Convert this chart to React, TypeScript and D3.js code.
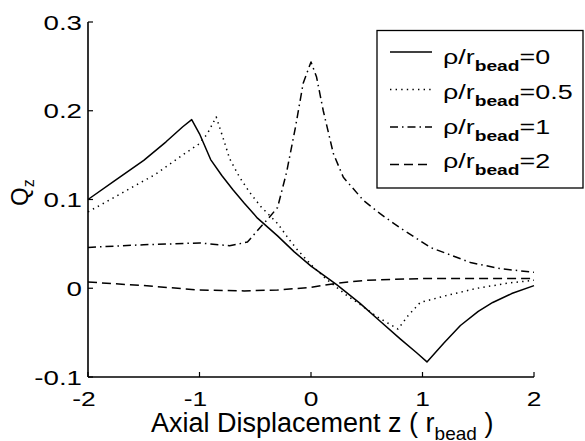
import React from "react";
import * as d3 from "d3";

// Axial force coefficient Q_z versus axial displacement for several radial offsets
const zRho0 = [-2.0, -1.75, -1.5, -1.3, -1.15, -1.07, -1.0, -0.9, -0.8, -0.7, -0.6, -0.48, -0.3, -0.15, 0.0, 0.23, 0.44, 0.6, 0.8, 0.95, 1.04, 1.19, 1.34, 1.5, 1.63, 1.8, 2.0];
const qRho0 = [0.100, 0.122, 0.144, 0.165, 0.182, 0.190, 0.174, 0.145, 0.127, 0.111, 0.096, 0.079, 0.059, 0.041, 0.025, 0.004, -0.017, -0.035, -0.057, -0.073, -0.083, -0.062, -0.042, -0.026, -0.016, -0.006, 0.003];

const zRho05 = [-2.0, -1.7, -1.4, -1.13, -1.0, -0.93, -0.85, -0.78, -0.73, -0.64, -0.55, -0.45, -0.37, -0.3, -0.19, -0.12, 0.02, 0.14, 0.32, 0.45, 0.59, 0.7, 0.78, 0.87, 0.98, 1.22, 1.49, 1.78, 2.0];
const qRho05 = [0.086, 0.107, 0.128, 0.152, 0.163, 0.174, 0.193, 0.166, 0.146, 0.125, 0.108, 0.092, 0.082, 0.073, 0.054, 0.043, 0.024, 0.010, -0.008, -0.019, -0.032, -0.040, -0.046, -0.031, -0.016, -0.008, 0.000, 0.006, 0.009];

const zRho1 = [-2.0, -1.5, -1.0, -0.73, -0.57, -0.46, -0.38, -0.3, -0.22, -0.14, -0.07, 0.0, 0.05, 0.11, 0.2, 0.29, 0.47, 0.62, 0.8, 1.07, 1.43, 1.7, 2.0];
const qRho1 = [0.046, 0.049, 0.051, 0.048, 0.052, 0.068, 0.079, 0.091, 0.130, 0.181, 0.231, 0.255, 0.238, 0.200, 0.152, 0.125, 0.099, 0.084, 0.068, 0.046, 0.029, 0.022, 0.018];

const zRho2 = [-2.0, -1.5, -1.0, -0.6, -0.3, 0.0, 0.25, 0.5, 1.0, 1.5, 2.0];
const qRho2 = [0.007, 0.003, -0.002, -0.003, -0.002, 0.001, 0.006, 0.009, 0.011, 0.011, 0.011];

const legendValues = ["0", "0.5", "1", "2"];
const xTicks = [-2, -1, 0, 1, 2];
const yTicks = [-0.1, 0, 0.1, 0.2, 0.3];
const yTickLabels = ["-0.1", "0", "0.1", "0.2", "0.3"];

const series = [
  { z: zRho0, q: qRho0, dash: "none" },
  { z: zRho05, q: qRho05, dash: "1.4 4.2" },
  { z: zRho1, q: qRho1, dash: "8 4 1.5 4" },
  { z: zRho2, q: qRho2, dash: "9 5" },
];

const W = 585;
const H = 441;
const FONT = "'Liberation Sans', Arial, Helvetica, sans-serif";
const SX = 1.32; // horizontal glyph stretch of tick and legend text

const x = d3.scaleLinear().domain([-2, 2]).range([88, 534]);
const y = d3.scaleLinear().domain([-0.1, 0.3]).range([377, 22]);

function Stretched({ x: tx, y: ty, anchor, children, size }: any) {
  return (
    <g transform={`translate(${tx},${ty}) scale(${SX},1)`}>
      <text textAnchor={anchor} fontSize={size} fontFamily={FONT} fill="#000">
        {children}
      </text>
    </g>
  );
}

export default function App() {
  const line = d3
    .line<[number, number]>()
    .x((d) => x(d[0]))
    .y((d) => y(d[1]));

  const [x0, x1] = x.range();
  const [yb, yt] = y.range();

  return (
    <svg
      width={W}
      height={H}
      viewBox={`0 0 ${W} ${H}`}
      style={{ position: "absolute", left: 0, top: 0, background: "#fff" }}
    >
      <rect width={W} height={H} fill="#fff" />

      {/* curves */}
      <g fill="none" stroke="#000" strokeWidth={1.5} strokeLinejoin="round">
        {series.map((s, i) => (
          <path
            key={i}
            d={line(s.z.map((z, k) => [z, s.q[k]] as [number, number])) || ""}
            strokeDasharray={s.dash}
          />
        ))}
      </g>

      {/* axes */}
      <g stroke="#000" strokeWidth={1.6} fill="none">
        <line x1={x0} x2={x0} y1={yt} y2={yb} />
        <line x1={x0} x2={x1} y1={yb} y2={yb} />
        {yTicks.map((t) => (
          <line key={"yt" + t} x1={x0} x2={x0 + 5} y1={y(t)} y2={y(t)} strokeWidth={1.2} />
        ))}
        {xTicks.map((t) => (
          <line key={"xt" + t} x1={x(t)} x2={x(t)} y1={yb} y2={yb - 5} strokeWidth={1.2} />
        ))}
      </g>

      {/* tick labels */}
      {yTicks.map((t, i) => (
        <Stretched key={"yl" + t} x={x0 - 6} y={y(t) + 7.5} anchor="end" size={21}>
          {yTickLabels[i]}
        </Stretched>
      ))}
      {xTicks.map((t) => (
        <Stretched key={"xl" + t} x={x(t) - (t < 0 ? 4 : 0)} y={406} anchor="middle" size={20}>
          {String(t)}
        </Stretched>
      ))}

      {/* axis titles */}
      <text x={151} y={432} fontSize={27} fontFamily={FONT} fill="#000">
        Axial Displacement z ( r
        <tspan fontSize={19} dy={8}>bead</tspan>
        <tspan dy={-8}> )</tspan>
      </text>
      <g transform="translate(28,206) rotate(-90)">
        <text fontSize={24} fontFamily={FONT} fill="#000">
          Q<tspan fontSize={16} dy={6}>z</tspan>
        </text>
      </g>

      {/* legend */}
      <rect x={377} y={30.5} width={206} height={157.5} fill="#fff" stroke="#000" strokeWidth={1.3} />
      {series.map((s, i) => {
        const ly = 52 + i * 37.5;
        const by = 64 + i * 34.8;
        return (
          <g key={"lg" + i}>
            <line x1={390} x2={432} y1={ly} y2={ly} stroke="#000" strokeWidth={1.5} strokeDasharray={s.dash} />
            <g transform={`translate(443,${by}) scale(${SX * 0.97},1)`}>
              <text fontSize={21} fontFamily={FONT} fill="#000">
                ρ/r
                <tspan fontSize={15} fontWeight="bold" dy={7}>bead</tspan>
                <tspan dy={-7}>={legendValues[i]}</tspan>
              </text>
            </g>
          </g>
        );
      })}
    </svg>
  );
}
